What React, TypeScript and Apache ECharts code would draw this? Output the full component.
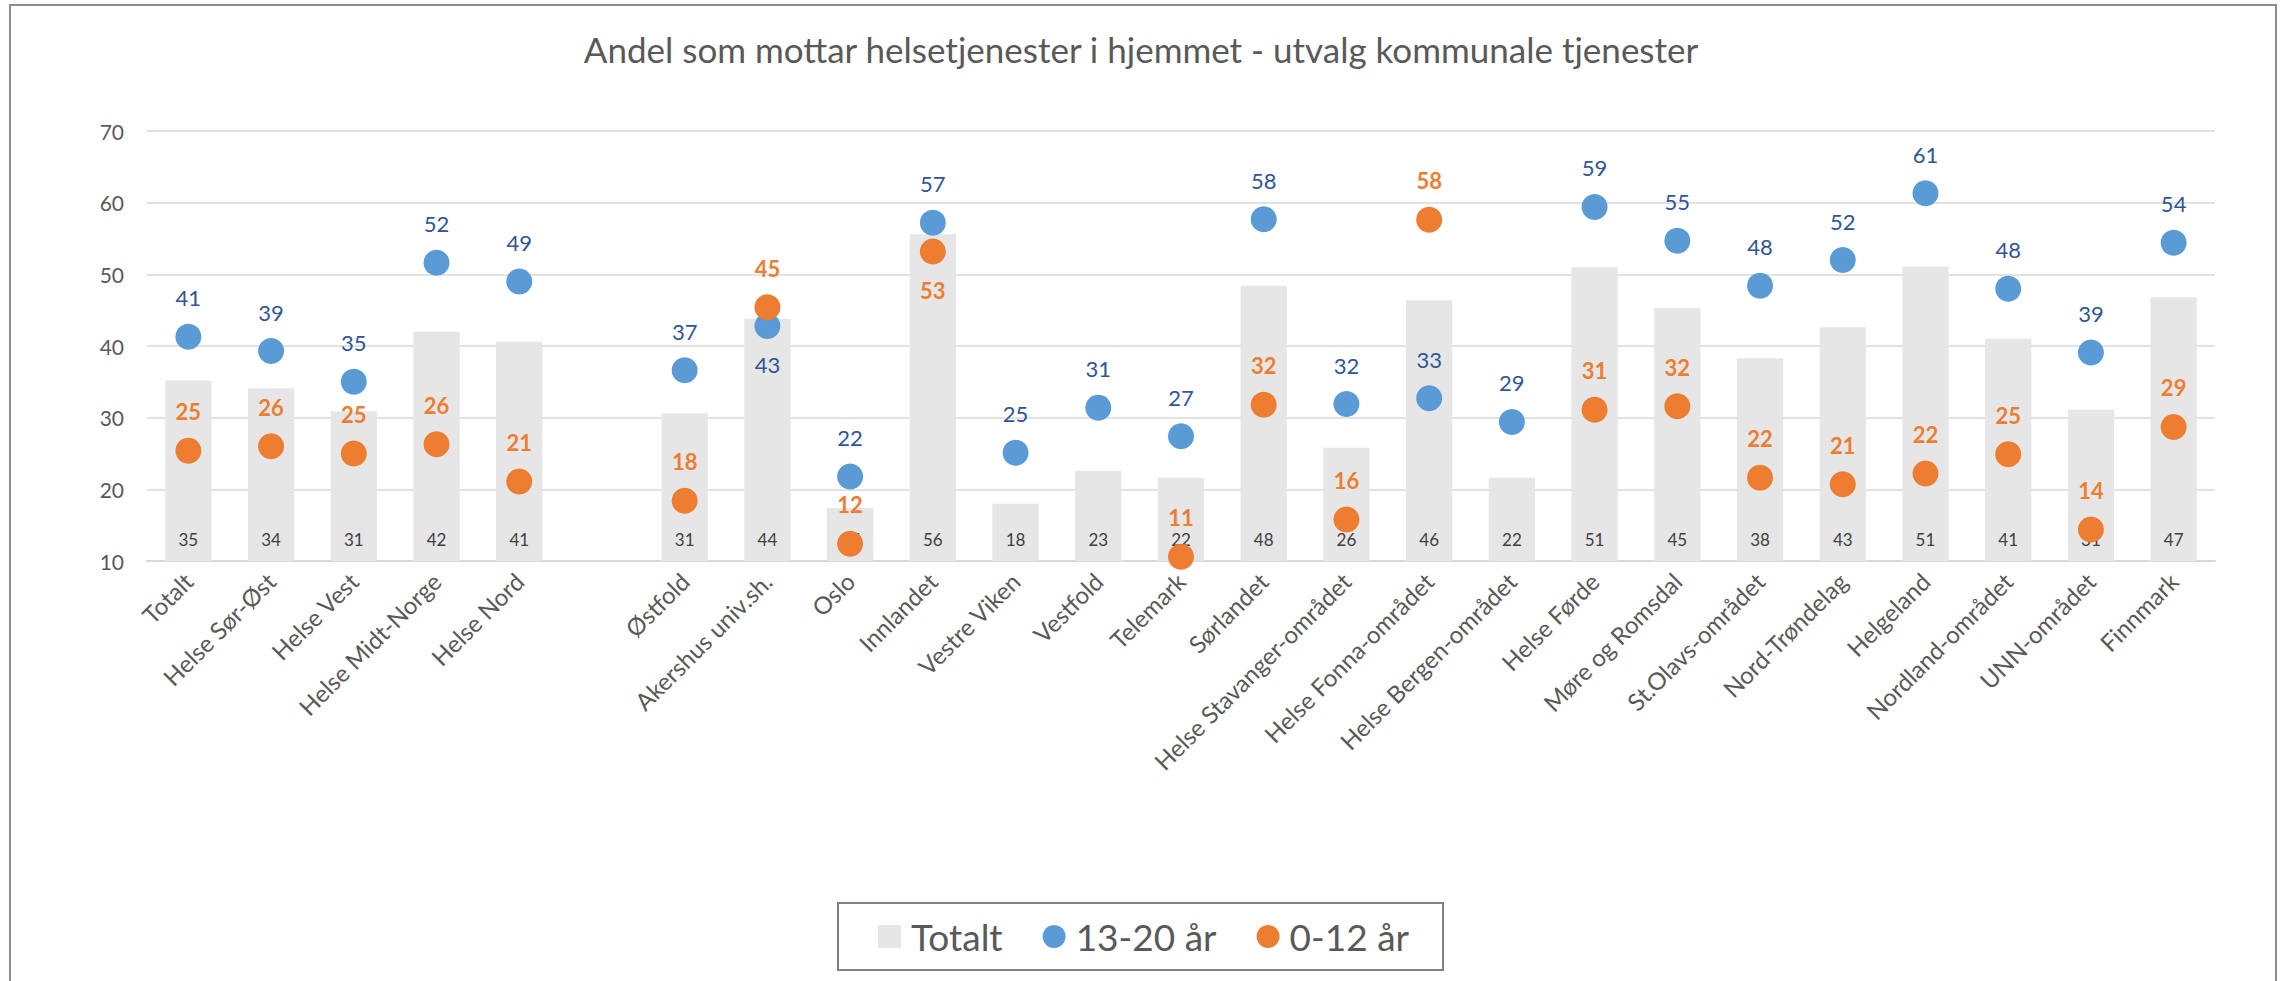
import React, { useEffect, useRef } from "react";
import * as echarts from "echarts";

const titleText = "Andel som mottar helsetjenester i hjemmet - utvalg kommunale tjenester";

const categories = [
  "Totalt", "Helse Sør-Øst", "Helse Vest", "Helse Midt-Norge", "Helse Nord", "",
  "Østfold", "Akershus univ.sh.", "Oslo", "Innlandet", "Vestre Viken", "Vestfold",
  "Telemark", "Sørlandet", "Helse Stavanger-området", "Helse Fonna-området",
  "Helse Bergen-området", "Helse Førde", "Møre og Romsdal", "St.Olavs-området",
  "Nord-Trøndelag", "Helgeland", "Nordland-området", "UNN-området", "Finnmark",
];

const totalt = [
  35.2, 34.1, 30.9, 42.0, 40.6, null,
  30.6, 43.8, 17.4, 55.6, 18.0, 22.6, 21.6, 48.4, 25.8, 46.4, 21.6, 51.0, 45.3, 38.3, 42.6, 51.1, 41.0, 31.1, 46.8,
];

const age13to20 = [
  41.3, 39.3, 35.0, 51.6, 49.0, null,
  36.6, 42.8, 21.8, 57.2, 25.1, 31.4, 27.4, 57.7, 31.9, 32.7, 29.4, 59.4, 54.7, 48.4, 52.0, 61.3, 48.0, 39.1, 54.4,
];

const age0to12 = [
  25.4, 26.0, 25.0, 26.3, 21.1, null,
  18.4, 45.4, 12.4, 53.2, null, null, 10.6, 31.8, 15.8, 57.6, null, 31.1, 31.6, 21.6, 20.7, 22.2, 24.9, 14.4, 28.7,
];

const seriesNames = ["Totalt", "13-20 år", "0-12 år"];
const yTicks = { min: 10, max: 70, interval: 10 };

// categories whose point label sits below the point
const blueLabelBelow = ["Akershus univ.sh."];
const orangeLabelBelow = ["Innlandet"];

const FONT = "Lato, 'Open Sans', sans-serif";

export default function App() {
  const ref = useRef<HTMLDivElement>(null);

  useEffect(() => {
    if (!ref.current) return;
    const chart = echarts.init(ref.current, undefined, { renderer: "svg" });

    const pointData = (vals: (number | null)[], below: string[]) =>
      vals.map((v, i) =>
        v == null
          ? null
          : below.includes(categories[i])
          ? { value: v, label: { position: "bottom" } }
          : v
      );

    chart.setOption({
      animation: false,
      backgroundColor: "#ffffff",
      textStyle: { fontFamily: FONT },
      title: {
        text: titleText,
        left: "center",
        top: 26,
        textStyle: { fontFamily: FONT, fontSize: 35, fontWeight: "normal", color: "#595959" },
      },
      graphic: [
        {
          type: "rect",
          shape: { x: 10, y: 5, width: 2266, height: 1010 },
          style: { fill: "none", stroke: "#8c8c8c", lineWidth: 2 },
          silent: true,
        },
      ],
      legend: {
        data: [
          { name: seriesNames[0], icon: "rect" },
          { name: seriesNames[1], icon: "circle" },
          { name: seriesNames[2], icon: "circle" },
        ],
        left: 838,
        top: 903,
        itemWidth: 23,
        itemHeight: 23,
        itemGap: 40,
        padding: [15, 34, 15, 40],
        borderColor: "#808080",
        borderWidth: 2,
        textStyle: { fontFamily: FONT, fontSize: 37, color: "#595959", padding: [0, 0, 0, 5] },
      },
      grid: { left: 147, right: 67, top: 131, bottom: 420, containLabel: false },
      xAxis: {
        type: "category",
        data: categories,
        boundaryGap: true,
        axisTick: { show: false },
        axisLine: { lineStyle: { color: "#d9d9d9", width: 2 } },
        axisLabel: {
          interval: 0,
          rotate: 45,
          margin: 16,
          fontFamily: FONT,
          fontSize: 24,
          color: "#595959",
        },
      },
      yAxis: {
        type: "value",
        min: yTicks.min,
        max: yTicks.max,
        interval: yTicks.interval,
        axisLine: { show: false },
        axisTick: { show: false },
        axisLabel: { fontFamily: FONT, fontSize: 21, color: "#595959", margin: 23 },
        splitLine: { lineStyle: { color: "#d9d9d9", width: 1.5 } },
      },
      series: [
        {
          name: seriesNames[0],
          type: "bar",
          data: totalt,
          barWidth: "56%",
          itemStyle: { color: "#e6e6e6" },
          label: {
            show: true,
            position: "insideBottom",
            distance: 13,
            fontFamily: FONT,
            fontSize: 17,
            color: "#404040",
            formatter: (p: any) => String(Math.round(p.value)),
          },
        },
        {
          name: seriesNames[1],
          type: "scatter",
          data: pointData(age13to20, blueLabelBelow),
          symbol: "circle",
          symbolSize: 26,
          itemStyle: { color: "#5b9bd5", opacity: 1 },
          label: {
            show: true,
            position: "top",
            distance: 15,
            fontFamily: FONT,
            fontSize: 22,
            color: "#2f5597",
            formatter: (p: any) => String(Math.round(Array.isArray(p.value) ? p.value[1] : p.value)),
          },
        },
        {
          name: seriesNames[2],
          type: "scatter",
          data: pointData(age0to12, orangeLabelBelow),
          symbol: "circle",
          symbolSize: 26,
          itemStyle: { color: "#ed7d31", opacity: 1 },
          label: {
            show: true,
            position: "top",
            distance: 15,
            fontFamily: FONT,
            fontSize: 22,
            fontWeight: "bold",
            color: "#ed7d31",
            formatter: (p: any) => String(Math.round(Array.isArray(p.value) ? p.value[1] : p.value)),
          },
        },
      ],
    });

    return () => chart.dispose();
  }, []);

  return (
    <div
      ref={ref}
      style={{ position: "absolute", left: 0, top: 0, width: 2282, height: 981, background: "#fff" }}
    />
  );
}
